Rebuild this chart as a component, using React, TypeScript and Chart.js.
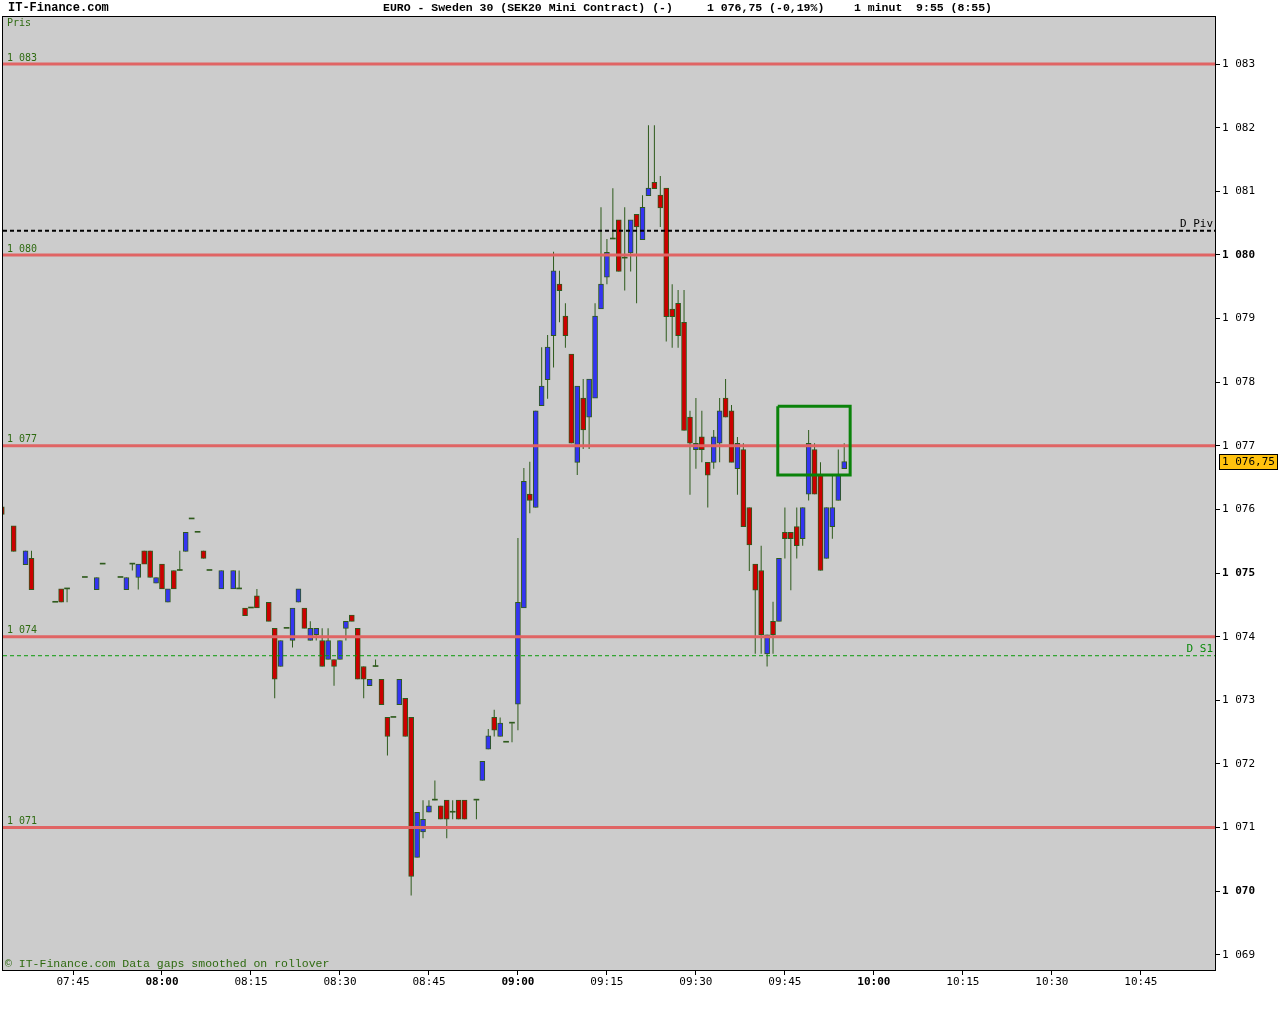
import React, { useEffect, useRef } from 'react';
import { Chart, registerables } from 'chart.js';

Chart.register(...registerables);

// ---- 1-minute candles (time, open, high, low, close) ----
const times = [
  '07:33', '07:35', '07:37', '07:38', '07:42', '07:43', '07:44', '07:47', '07:49', '07:50',
  '07:53', '07:54', '07:55', '07:56', '07:57', '07:58', '07:59', '08:00', '08:01', '08:02',
  '08:03', '08:04', '08:05', '08:06', '08:07', '08:08', '08:10', '08:12', '08:13', '08:14',
  '08:15', '08:16', '08:18', '08:19', '08:20', '08:21', '08:22', '08:23', '08:24', '08:25',
  '08:26', '08:27', '08:28', '08:29', '08:30', '08:31', '08:32', '08:33', '08:34', '08:35',
  '08:36', '08:37', '08:38', '08:39', '08:40', '08:41', '08:42', '08:43', '08:44', '08:45',
  '08:46', '08:47', '08:48', '08:49', '08:50', '08:51', '08:53', '08:54', '08:55', '08:56',
  '08:57', '08:58', '08:59', '09:00', '09:01', '09:02', '09:03', '09:04', '09:05', '09:06',
  '09:07', '09:08', '09:09', '09:10', '09:11', '09:12', '09:13', '09:14', '09:15', '09:16',
  '09:17', '09:18', '09:19', '09:20', '09:21', '09:22', '09:23', '09:24', '09:25', '09:26',
  '09:27', '09:28', '09:29', '09:30', '09:31', '09:32', '09:33', '09:34', '09:35', '09:36',
  '09:37', '09:38', '09:39', '09:40', '09:41', '09:42', '09:43', '09:44', '09:45', '09:46',
  '09:47', '09:48', '09:49', '09:50', '09:51', '09:52', '09:53', '09:54', '09:55',
];

const opens = [
  1076.04, 1075.74, 1075.13, 1075.23, 1074.54, 1074.75, 1074.75, 1074.93, 1074.74, 1075.14,
  1074.93, 1074.74, 1075.14, 1074.93, 1075.35, 1075.35, 1074.84, 1075.14, 1074.54, 1075.04,
  1075.04, 1075.34, 1075.85, 1075.64, 1075.35, 1075.04, 1074.75, 1074.75, 1074.75, 1074.45,
  1074.45, 1074.64, 1074.54, 1074.13, 1073.53, 1074.13, 1073.94, 1074.54, 1074.45, 1073.94,
  1074.03, 1073.94, 1073.64, 1073.64, 1073.64, 1074.13, 1074.34, 1074.13, 1073.53, 1073.23,
  1073.53, 1073.33, 1072.73, 1072.73, 1072.93, 1073.03, 1072.73, 1070.53, 1070.93, 1071.24,
  1071.43, 1071.34, 1071.43, 1071.24, 1071.43, 1071.43, 1071.43, 1071.74, 1072.23, 1072.73,
  1072.43, 1072.34, 1072.64, 1072.94, 1074.45, 1076.24, 1076.03, 1077.63, 1078.04, 1078.73,
  1079.54, 1079.04, 1078.44, 1076.74, 1077.75, 1077.45, 1077.75, 1079.15, 1079.65, 1080.25,
  1080.55, 1079.95, 1080.03, 1080.64, 1080.24, 1080.93, 1081.14, 1080.94, 1081.05, 1079.15,
  1079.24, 1078.94, 1077.45, 1076.94, 1077.14, 1076.74, 1076.74, 1077.04, 1077.75, 1077.55,
  1076.64, 1076.94, 1076.03, 1075.14, 1075.04, 1073.73, 1074.24, 1074.24, 1075.64, 1075.64,
  1075.73, 1075.54, 1076.24, 1076.94, 1076.54, 1075.23, 1075.73, 1076.14, 1076.64,
];

const highs = [
  1076.04, 1075.74, 1075.35, 1075.35, 1074.54, 1074.75, 1074.75, 1074.93, 1074.93, 1075.14,
  1074.93, 1074.93, 1075.14, 1075.14, 1075.35, 1075.35, 1074.93, 1075.14, 1074.75, 1075.04,
  1075.35, 1075.64, 1075.85, 1075.64, 1075.35, 1075.04, 1075.04, 1075.04, 1075.04, 1074.45,
  1074.45, 1074.75, 1074.54, 1074.13, 1073.94, 1074.13, 1074.45, 1074.75, 1074.45, 1074.24,
  1074.13, 1074.13, 1074.13, 1073.64, 1073.94, 1074.24, 1074.34, 1074.13, 1073.53, 1073.33,
  1073.64, 1073.33, 1072.73, 1072.73, 1073.33, 1073.03, 1072.73, 1071.24, 1071.43, 1071.43,
  1071.74, 1071.34, 1071.43, 1071.43, 1071.43, 1071.43, 1071.43, 1072.04, 1072.55, 1072.85,
  1072.73, 1072.34, 1072.64, 1075.55, 1076.65, 1076.75, 1077.55, 1078.55, 1078.74, 1080.05,
  1079.75, 1079.24, 1078.44, 1077.94, 1078.05, 1078.05, 1079.24, 1080.75, 1080.25, 1081.05,
  1080.55, 1080.75, 1080.55, 1080.64, 1080.94, 1082.04, 1082.04, 1081.24, 1081.05, 1079.54,
  1079.45, 1079.45, 1077.55, 1077.75, 1077.55, 1076.74, 1077.25, 1077.75, 1078.05, 1077.64,
  1077.14, 1077.04, 1076.03, 1075.14, 1075.43, 1074.03, 1074.55, 1075.23, 1076.03, 1075.64,
  1076.03, 1076.03, 1077.25, 1077.04, 1076.74, 1076.03, 1076.54, 1076.94, 1077.04,
];

const lows = [
  1075.92, 1075.34, 1075.13, 1074.74, 1074.54, 1074.54, 1074.54, 1074.93, 1074.74, 1075.14,
  1074.93, 1074.74, 1075.04, 1074.74, 1075.14, 1074.93, 1074.84, 1074.75, 1074.54, 1074.75,
  1075.04, 1075.34, 1075.85, 1075.64, 1075.23, 1075.04, 1074.75, 1074.75, 1074.75, 1074.33,
  1074.45, 1074.45, 1074.24, 1073.03, 1073.53, 1074.13, 1073.83, 1074.54, 1074.13, 1073.94,
  1073.94, 1073.53, 1073.64, 1073.23, 1073.64, 1073.94, 1074.24, 1073.33, 1073.03, 1073.23,
  1073.53, 1072.93, 1072.13, 1072.73, 1072.93, 1072.43, 1069.93, 1070.53, 1070.83, 1071.24,
  1071.43, 1071.13, 1070.83, 1071.13, 1071.13, 1071.13, 1071.13, 1071.74, 1072.23, 1072.43,
  1072.43, 1072.34, 1072.34, 1072.53, 1074.45, 1075.94, 1076.03, 1077.63, 1077.74, 1078.23,
  1078.94, 1078.54, 1077.04, 1076.54, 1076.95, 1076.95, 1077.75, 1079.15, 1079.54, 1080.25,
  1079.74, 1079.44, 1079.74, 1079.24, 1080.24, 1080.93, 1081.04, 1080.44, 1078.64, 1078.54,
  1078.54, 1077.24, 1076.23, 1076.64, 1076.74, 1076.03, 1076.64, 1076.74, 1077.45, 1076.74,
  1076.23, 1075.73, 1075.03, 1073.73, 1073.73, 1073.53, 1073.73, 1074.24, 1075.23, 1074.73,
  1075.23, 1075.43, 1076.14, 1076.24, 1075.04, 1075.23, 1075.54, 1076.14, 1076.64,
];

const closes = [
  1075.92, 1075.34, 1075.35, 1074.74, 1074.54, 1074.54, 1074.75, 1074.93, 1074.93, 1075.14,
  1074.93, 1074.93, 1075.14, 1075.14, 1075.14, 1074.93, 1074.93, 1074.75, 1074.75, 1074.75,
  1075.04, 1075.64, 1075.85, 1075.64, 1075.23, 1075.04, 1075.04, 1075.04, 1074.75, 1074.33,
  1074.45, 1074.45, 1074.24, 1073.33, 1073.94, 1074.13, 1074.45, 1074.75, 1074.13, 1074.13,
  1074.13, 1073.53, 1073.94, 1073.53, 1073.94, 1074.24, 1074.24, 1073.33, 1073.33, 1073.33,
  1073.53, 1072.93, 1072.43, 1072.73, 1073.33, 1072.43, 1070.23, 1071.24, 1071.13, 1071.34,
  1071.43, 1071.13, 1071.13, 1071.24, 1071.13, 1071.13, 1071.43, 1072.04, 1072.44, 1072.53,
  1072.64, 1072.34, 1072.64, 1074.54, 1076.44, 1076.14, 1077.55, 1077.94, 1078.55, 1079.75,
  1079.44, 1078.73, 1077.04, 1077.94, 1077.25, 1078.05, 1079.04, 1079.54, 1080.04, 1080.25,
  1079.74, 1079.95, 1080.55, 1080.44, 1080.75, 1081.05, 1081.04, 1080.74, 1079.03, 1079.03,
  1078.73, 1077.24, 1077.04, 1077.04, 1076.94, 1076.54, 1077.14, 1077.55, 1077.45, 1076.74,
  1077.04, 1075.73, 1075.44, 1074.73, 1074.03, 1074.03, 1074.03, 1075.23, 1075.54, 1075.54,
  1075.43, 1076.03, 1077.04, 1076.24, 1075.04, 1076.03, 1076.03, 1076.54, 1076.75,
];

// ---- horizontal levels & annotations ----
const levelLines = [1083, 1080, 1077, 1074, 1071];
const pivotLevel = 1080.38;
const support1Level = 1073.7;
const lastPrice = 1076.75;
const lastPriceLabel = '1 076,75';
const boxTimes = ['09:43.8', '09:56.0'];
const boxPrices = [1076.54, 1077.62];

// ---- axes ----
const xTicks = ['07:45', '08:00', '08:15', '08:30', '08:45', '09:00', '09:15', '09:30', '09:45', '10:00', '10:15', '10:30', '10:45'];
const yTicks = [1069, 1070, 1071, 1072, 1073, 1074, 1075, 1076, 1077, 1078, 1079, 1080, 1081, 1082, 1083];
const xRange = ['07:33.2', '10:57.5'];
const yRange = [1068.76, 1083.74];

const headerLeft = 'IT-Finance.com';
const headerTitle = 'EURO - Sweden 30 (SEK20 Mini Contract) (-)';
const headerQuote = '1 076,75 (-0,19%)';
const headerPeriod = '1 minut  9:55 (8:55)';
const footerText = '\u00A9 IT-Finance.com Data gaps smoothed on rollover';

const UP = '#3434F2';
const DOWN = '#CC0000';
const EDGE = '#2E5A1C';
const LEVEL = '#E06464';
const TEXT_GREEN = '#2E6A10';

const toMin = (s: string) => {
  const [h, m] = s.split(':');
  return Number(h) * 60 + Number(m);
};
const pad2 = (n: number) => String(n).padStart(2, '0');
const fmtTime = (v: number) => `${pad2(Math.floor(v / 60))}:${pad2(Math.round(v % 60))}`;
const fmtPrice = (v: number) => {
  const s = String(Math.round(v));
  return s.slice(0, 1) + ' ' + s.slice(1);
};

export default function App() {
  const canvasRef = useRef<HTMLCanvasElement | null>(null);

  useEffect(() => {
    const canvas = canvasRef.current;
    if (!canvas) return;

    const xMin = toMin(xRange[0]);
    const xMax = toMin(xRange[1]);
    const tx = times.map(toMin);

    const wickData = tx.map((x, i) => ({ x, y: [lows[i], highs[i]] }));
    const bodyIdx = tx.map((_, i) => i).filter((i) => opens[i] !== closes[i]);
    const dojiIdx = tx.map((_, i) => i).filter((i) => opens[i] === closes[i]);
    const bodyData = bodyIdx.map((i) => ({ x: tx[i], y: [opens[i], closes[i]] }));
    const bodyColors = bodyIdx.map((i) => (closes[i] > opens[i] ? UP : DOWN));
    const dojiData = dojiIdx.map((i) => ({ x: tx[i], y: [opens[i], closes[i]] }));

    const hLine = (v: number) => [
      { x: xMin, y: v },
      { x: xMax, y: v },
    ];

    const bx0 = toMin(boxTimes[0]);
    const bx1 = toMin(boxTimes[1]);
    const boxData = [
      { x: bx0, y: boxPrices[1] },
      { x: bx1, y: boxPrices[1] },
      { x: bx1, y: boxPrices[0] },
      { x: bx0, y: boxPrices[0] },
      { x: bx0, y: boxPrices[1] },
    ];

    const lineBase = {
      type: 'line' as const,
      pointRadius: 0,
      fill: false,
      tension: 0,
    };

    const datasets: any[] = [
      {
        type: 'bar',
        label: 'wick',
        data: wickData,
        backgroundColor: EDGE,
        borderWidth: 0,
        barThickness: 1,
        inflateAmount: 0,
        grouped: false,
        order: 5,
      },
      {
        type: 'bar',
        label: 'body',
        data: bodyData,
        backgroundColor: bodyColors,
        borderColor: EDGE,
        borderWidth: 1,
        borderSkipped: false,
        barThickness: 5,
        grouped: false,
        order: 4,
      },
      {
        type: 'bar',
        label: 'doji',
        data: dojiData,
        backgroundColor: EDGE,
        borderWidth: 0,
        barThickness: 5,
        minBarLength: 1,
        grouped: false,
        order: 3,
      },
      ...levelLines.map((v) => ({
        ...lineBase,
        label: 'level ' + v,
        data: hLine(v),
        borderColor: LEVEL,
        borderWidth: 3,
        order: 2,
      })),
      {
        ...lineBase,
        label: 'D Piv',
        data: hLine(pivotLevel),
        borderColor: '#000000',
        borderWidth: 2,
        borderDash: [4, 3],
        order: 1,
      },
      {
        ...lineBase,
        label: 'D S1',
        data: hLine(support1Level),
        borderColor: '#0A9A0A',
        borderWidth: 1,
        borderDash: [4, 3],
        order: 1,
      },
      {
        ...lineBase,
        label: 'box',
        data: boxData,
        borderColor: '#0A820A',
        borderWidth: 3,
        borderJoinStyle: 'miter',
        order: 0,
      },
    ];

    const decor = {
      id: 'decor',
      beforeDraw(chart: any) {
        const { ctx, chartArea: a } = chart;
        ctx.save();
        ctx.fillStyle = '#FFFFFF';
        ctx.fillRect(0, 0, chart.width, chart.height);
        ctx.fillStyle = '#CCCCCC';
        ctx.fillRect(a.left, a.top, a.right - a.left, a.bottom - a.top);
        ctx.restore();
      },
      afterDraw(chart: any) {
        const { ctx, chartArea: a } = chart;
        const ys = chart.scales.y;
        ctx.save();
        // frame
        ctx.strokeStyle = '#000000';
        ctx.lineWidth = 1;
        ctx.strokeRect(a.left - 0.5, a.top - 0.5, a.right - a.left + 1, a.bottom - a.top + 1);

        // header
        ctx.textBaseline = 'middle';
        ctx.fillStyle = '#000000';
        ctx.font = 'bold 12px "Liberation Mono", monospace';
        ctx.textAlign = 'left';
        ctx.fillText(headerLeft, 8, 8);
        ctx.font = 'bold 11.5px "Liberation Mono", monospace';
        ctx.fillText(headerTitle, 383, 8);
        ctx.fillText(headerQuote, 707, 8);
        ctx.fillText(headerPeriod, 854, 8);

        // top-left & level labels
        ctx.fillStyle = TEXT_GREEN;
        ctx.font = '10px "DejaVu Sans Mono", monospace';
        ctx.fillText('Pris', a.left + 4, a.top + 6);
        levelLines.forEach((v) => {
          ctx.fillText(fmtPrice(v), a.left + 4, ys.getPixelForValue(v) - 6);
        });

        // footer
        ctx.font = '11.5px "Liberation Mono", monospace';
        ctx.fillText(footerText, a.left + 2, a.bottom - 6);

        // right-side line labels
        ctx.textAlign = 'right';
        ctx.font = '11px "DejaVu Sans Mono", monospace';
        ctx.fillStyle = '#000000';
        ctx.fillText('D Piv', a.right - 2, ys.getPixelForValue(pivotLevel) - 7);
        ctx.fillStyle = '#0A8A0A';
        ctx.fillText('D S1', a.right - 2, ys.getPixelForValue(support1Level) - 7);

        // last price box
        const py = Math.round(ys.getPixelForValue(lastPrice));
        ctx.fillStyle = '#FFC20E';
        ctx.fillRect(a.right + 4, py - 8, 59, 16);
        ctx.strokeStyle = '#000000';
        ctx.strokeRect(a.right + 4.5, py - 7.5, 58, 15);
        ctx.fillStyle = '#000000';
        ctx.textAlign = 'left';
        ctx.font = '11px "DejaVu Sans Mono", monospace';
        ctx.fillText(lastPriceLabel, a.right + 7, py + 0.5);
        ctx.restore();
      },
    };

    const chart = new Chart(canvas, {
      type: 'bar',
      data: { datasets },
      options: {
        animation: false,
        responsive: false,
        devicePixelRatio: 1,
        events: [],
        layout: { padding: { top: 17, left: 3, right: 0, bottom: 0 } },
        plugins: {
          legend: { display: false },
          tooltip: { enabled: false },
          title: { display: false },
        },
        scales: {
          x: {
            type: 'linear',
            min: xMin,
            max: xMax,
            offset: false,
            afterBuildTicks: (ax: any) => {
              ax.ticks = xTicks.map((t) => ({ value: toMin(t) }));
            },
            afterFit: (s: any) => {
              s.height = 54;
            },
            border: { display: false },
            grid: { offset: false, drawOnChartArea: false, drawTicks: true, tickLength: 5, color: '#000000' },
            ticks: {
              padding: 1,
              color: '#000000',
              autoSkip: false,
              maxRotation: 0,
              callback: (v: any) => fmtTime(Number(v)),
              font: (c: any) => ({
                family: '"DejaVu Sans Mono", monospace',
                size: 11,
                weight: c.tick && c.tick.value % 60 === 0 ? 'bold' : 'normal',
              }),
            },
          },
          y: {
            type: 'linear',
            position: 'right',
            min: yRange[0],
            max: yRange[1],
            afterBuildTicks: (ax: any) => {
              ax.ticks = yTicks.map((v) => ({ value: v }));
            },
            afterFit: (s: any) => {
              s.width = 65;
            },
            border: { display: false },
            grid: { offset: false, drawOnChartArea: false, drawTicks: true, tickLength: 5, color: '#000000' },
            ticks: {
              padding: 2,
              color: '#000000',
              autoSkip: false,
              callback: (v: any) => fmtPrice(Number(v)),
              font: (c: any) => ({
                family: '"DejaVu Sans Mono", monospace',
                size: 11,
                weight: c.tick && c.tick.value % 5 === 0 ? 'bold' : 'normal',
              }),
            },
          },
        },
      },
      plugins: [decor],
    } as any);

    return () => chart.destroy();
  }, []);

  return (
    <div style={{ position: 'absolute', left: 0, top: 0, width: 1280, height: 1024, background: '#fff' }}>
      <canvas ref={canvasRef} width={1280} height={1024} style={{ display: 'block' }} />
    </div>
  );
}
